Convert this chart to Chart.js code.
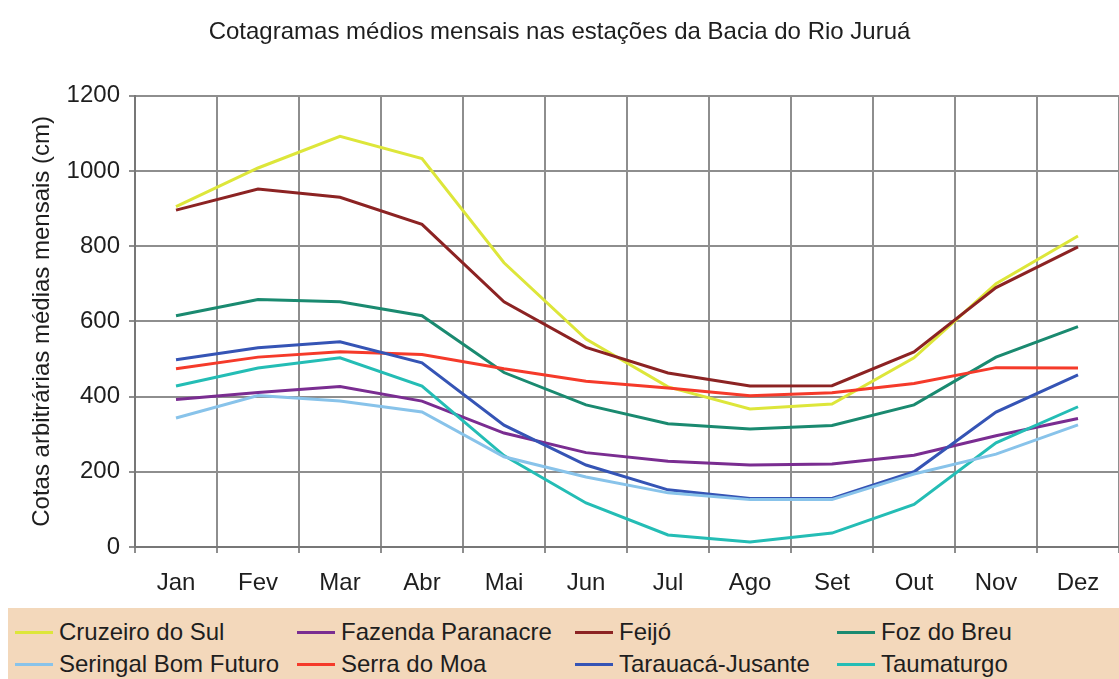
<!DOCTYPE html>
<html>
<head>
<meta charset="utf-8">
<script src="https://cdn.jsdelivr.net/npm/chart.js@4"></script>
<style>
  html, body { margin: 0; padding: 0; background: #fff; }
  #wrap { position: relative; width: 1119px; height: 679px; overflow: hidden; font-family: "Liberation Sans", Arial, sans-serif; }
  #box { position: absolute; left: 0; top: 0; width: 1119px; height: 606px; }
  #legend { position: absolute; left: 8px; top: 608px; width: 1111px; height: 71px; background: #f3d8bb; }
  .item { position: absolute; display: flex; align-items: center; font-size: 24px; color: #1e1e1e; white-space: nowrap; }
  .item span.sw { display: inline-block; width: 38px; height: 3px; margin-right: 6px; }
</style>
</head>
<body>
<div id="wrap">
  <div id="box"><canvas id="chart"></canvas></div>
  <div id="legend"></div>
</div>
<script>
const months = ['Jan','Fev','Mar','Abr','Mai','Jun','Jul','Ago','Set','Out','Nov','Dez'];

const cruzeiroDoSul     = [905, 1008, 1092, 1033, 756, 553, 426, 367, 380, 503, 700, 827];
const fazendaParanacre  = [392, 411, 427, 388, 303, 251, 228, 218, 221, 244, 296, 342];
const feijo             = [896, 952, 930, 858, 652, 531, 463, 428, 429, 519, 690, 798];
const fozDoBreu         = [615, 658, 652, 615, 464, 378, 328, 314, 323, 378, 505, 586];
const seringalBomFuturo = [343, 403, 388, 359, 240, 186, 144, 126, 126, 194, 247, 325];
const serraDoMoa        = [474, 505, 519, 512, 474, 441, 423, 402, 410, 435, 477, 476];
const tarauacaJusante   = [498, 530, 546, 490, 324, 218, 152, 129, 129, 200, 359, 458];
const taumaturgo        = [428, 476, 503, 428, 243, 117, 32, 13, 37, 113, 277, 373];

const yTicks = [0, 200, 400, 600, 800, 1000, 1200];

const series = [
  { label: 'Cruzeiro do Sul', data: cruzeiroDoSul, color: '#dde63a' },
  { label: 'Fazenda Paranacre', data: fazendaParanacre, color: '#7a2d91' },
  { label: 'Feijó', data: feijo, color: '#8c2323' },
  { label: 'Foz do Breu', data: fozDoBreu, color: '#1a8a70' },
  { label: 'Seringal Bom Futuro', data: seringalBomFuturo, color: '#88c3ea' },
  { label: 'Serra do Moa', data: serraDoMoa, color: '#f53a2a' },
  { label: 'Tarauacá-Jusante', data: tarauacaJusante, color: '#3554b5' },
  { label: 'Taumaturgo', data: taumaturgo, color: '#24bdb5' },
];

// draw order: later = on top (yellow over the others like in the original)
const drawOrder = [4, 6, 7, 1, 5, 3, 2, 0];

const font = "'Liberation Sans', Arial, sans-serif";
const gridColor = '#8e8e8e';
const textColor = '#1e1e1e';

new Chart(document.getElementById('chart'), {
  type: 'line',
  data: {
    labels: months,
    datasets: drawOrder.map(i => ({
      label: series[i].label,
      data: series[i].data,
      borderColor: series[i].color,
      backgroundColor: series[i].color,
      borderWidth: 3,
      pointRadius: 0,
      tension: 0,
      fill: false
    }))
  },
  options: {
    responsive: true,
    maintainAspectRatio: false,
    animation: false,
    layout: { padding: 0 },
    plugins: {
      legend: { display: false },
      tooltip: { enabled: false },
      title: {
        display: true,
        text: 'Cotagramas médios mensais nas estações da Bacia do Rio Juruá',
        color: textColor,
        font: { family: font, size: 24, weight: 'normal' },
        padding: { top: 18, bottom: 49 }
      }
    },
    scales: {
      x: {
        offset: true,
        grid: { offset: true, color: gridColor, lineWidth: 2, tickLength: 6, drawTicks: true },
        border: { color: '#777', width: 2 },
        ticks: { color: textColor, font: { family: font, size: 24 }, padding: 16, maxRotation: 0 },
        afterFit: s => { s.height = 59; }
      },
      y: {
        min: 0, max: 1200,
        afterBuildTicks: s => { s.ticks = yTicks.map(v => ({ value: v })); },
        grid: { color: gridColor, lineWidth: 2, tickLength: 6 },
        border: { color: '#777', width: 2 },
        ticks: { color: textColor, font: { family: font, size: 24 }, padding: 9, callback: v => String(v) },
        title: {
          display: true,
          text: 'Cotas arbitrárias médias mensais (cm)',
          color: textColor,
          font: { family: font, size: 24 },
          padding: { top: 28, bottom: 0 }
        },
        afterFit: s => { s.width = 135; }
      }
    }
  }
});

// legend laid out in four columns like the original
const legendCols = [7, 289, 567, 829];
const legendRows = [10, 42];
const leg = document.getElementById('legend');
series.forEach((s, i) => {
  const el = document.createElement('div');
  el.className = 'item';
  el.style.left = legendCols[i % 4] + 'px';
  el.style.top = legendRows[Math.floor(i / 4)] + 'px';
  el.innerHTML = `<span class="sw" style="background:${s.color}"></span>${s.label}`;
  leg.appendChild(el);
});
</script>
</body>
</html>
